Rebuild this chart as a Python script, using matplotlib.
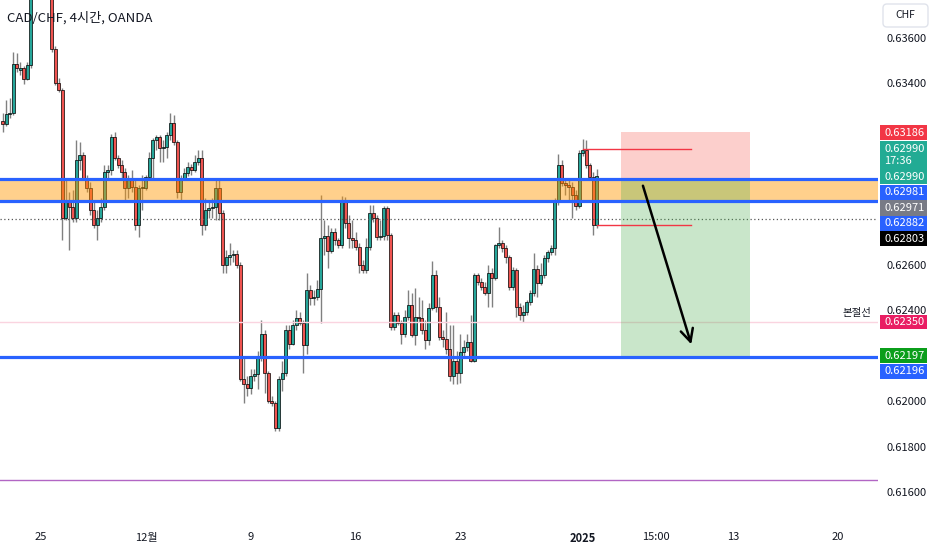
import matplotlib
matplotlib.use('Agg')
import numpy as np
import matplotlib.pyplot as plt
import matplotlib.transforms as mtransforms
from matplotlib.patches import Rectangle, FancyBboxPatch

plt.rcParams['font.family'] = ['Noto Sans CJK KR', 'DejaVu Sans']

# CAD/CHF 4시간 봉 (왼쪽부터 순서대로)
opens = [
    0.63233, 0.63220, 0.63264, 0.63269, 0.63485, 0.63458, 0.63467, 0.63419, 0.63480, 0.63802,
    0.63877, 0.63855, 0.63921, 0.63890, 0.63820, 0.63551, 0.63401, 0.63370, 0.62806, 0.62876,
    0.62854, 0.62806, 0.63061, 0.63083, 0.62982, 0.62938, 0.62841, 0.62775, 0.62806, 0.62854,
    0.63008, 0.63017, 0.63163, 0.63070, 0.63039, 0.63008, 0.62938, 0.62973, 0.62942, 0.62775,
    0.62938, 0.62938, 0.62986, 0.63070, 0.63150, 0.63163, 0.63114, 0.63119, 0.63172, 0.63225,
    0.63141, 0.62920, 0.62982, 0.63004, 0.63031, 0.63017, 0.63053, 0.63070, 0.62775, 0.62841,
    0.62850, 0.62854, 0.62938, 0.62828, 0.62598, 0.62634, 0.62642, 0.62647, 0.62598, 0.62100,
    0.62078, 0.62060, 0.62113, 0.62122, 0.62201, 0.62298, 0.62126, 0.62003, 0.61990, 0.61880,
    0.62100, 0.62126, 0.62312, 0.62254, 0.62334, 0.62365, 0.62343, 0.62246, 0.62488, 0.62453,
    0.62457, 0.62493, 0.62717, 0.62726, 0.62660, 0.62744, 0.62709, 0.62687, 0.62885, 0.62784,
    0.62717, 0.62709, 0.62678, 0.62598, 0.62576, 0.62678, 0.62828, 0.62806, 0.62722, 0.62726,
    0.62850, 0.62731, 0.62325, 0.62378, 0.62343, 0.62298, 0.62369, 0.62422, 0.62290, 0.62369,
    0.62365, 0.62312, 0.62268, 0.62409, 0.62554, 0.62413, 0.62281, 0.62276, 0.62232, 0.62113,
    0.62179, 0.62126, 0.62215, 0.62237, 0.62259, 0.62179, 0.62554, 0.62523, 0.62501, 0.62475,
    0.62567, 0.62545, 0.62687, 0.62695, 0.62673, 0.62634, 0.62501, 0.62576, 0.62413, 0.62382,
    0.62391, 0.62435, 0.62475, 0.62581, 0.62519, 0.62554, 0.62629, 0.62656, 0.62673, 0.62876,
    0.63039, 0.62960, 0.62951, 0.62942, 0.62907, 0.62859, 0.63092, 0.63105, 0.63039, 0.62986,
    0.62775,
]
highs = [
    0.63269, 0.63326, 0.63335, 0.63538, 0.63533, 0.63494, 0.63476, 0.63494, 0.63833, 0.63899,
    0.63921, 0.63952, 0.63943, 0.63908, 0.63846, 0.63564, 0.63423, 0.63379, 0.62973, 0.62920,
    0.62929, 0.63150, 0.63141, 0.63097, 0.62995, 0.62964, 0.62885, 0.62841, 0.62894, 0.63039,
    0.63039, 0.63176, 0.63185, 0.63083, 0.63061, 0.63026, 0.62995, 0.63017, 0.62973, 0.62951,
    0.62995, 0.62995, 0.63097, 0.63158, 0.63172, 0.63172, 0.63150, 0.63185, 0.63269, 0.63260,
    0.63150, 0.62995, 0.63026, 0.63053, 0.63044, 0.63083, 0.63105, 0.63105, 0.62894, 0.62885,
    0.62894, 0.62973, 0.62973, 0.62841, 0.62664, 0.62695, 0.62664, 0.62664, 0.62612, 0.62193,
    0.62113, 0.62144, 0.62144, 0.62223, 0.62356, 0.62312, 0.62135, 0.62025, 0.62003, 0.62113,
    0.62179, 0.62334, 0.62334, 0.62356, 0.62400, 0.62391, 0.62356, 0.62563, 0.62510, 0.62488,
    0.62532, 0.62907, 0.62797, 0.62775, 0.62762, 0.62762, 0.62717, 0.62903, 0.62898, 0.62819,
    0.62797, 0.62744, 0.62695, 0.62620, 0.62717, 0.62863, 0.62863, 0.62819, 0.62797, 0.62859,
    0.62859, 0.62739, 0.62391, 0.62391, 0.62356, 0.62400, 0.62488, 0.62475, 0.62497, 0.62457,
    0.62444, 0.62356, 0.62431, 0.62616, 0.62576, 0.62457, 0.62312, 0.62391, 0.62334, 0.62334,
    0.62223, 0.62298, 0.62268, 0.62298, 0.62378, 0.62567, 0.62567, 0.62541, 0.62523, 0.62598,
    0.62585, 0.62691, 0.62766, 0.62709, 0.62687, 0.62642, 0.62590, 0.62585, 0.62431, 0.62422,
    0.62444, 0.62488, 0.62651, 0.62598, 0.62607, 0.62642, 0.62664, 0.62687, 0.62894, 0.63088,
    0.63061, 0.62982, 0.62973, 0.62964, 0.62929, 0.63105, 0.63154, 0.63150, 0.63048, 0.63008,
    0.63022,
]
lows = [
    0.63185, 0.63211, 0.63247, 0.63260, 0.63449, 0.63436, 0.63397, 0.63414, 0.63467, 0.63780,
    0.63833, 0.63846, 0.63864, 0.63811, 0.63538, 0.63392, 0.63361, 0.62709, 0.62797, 0.62664,
    0.62788, 0.62788, 0.63017, 0.62973, 0.62920, 0.62819, 0.62762, 0.62709, 0.62788, 0.62841,
    0.62973, 0.62995, 0.63061, 0.63026, 0.62982, 0.62885, 0.62894, 0.62920, 0.62753, 0.62722,
    0.62841, 0.62929, 0.62973, 0.62973, 0.63105, 0.63053, 0.63053, 0.63070, 0.63150, 0.63128,
    0.62894, 0.62885, 0.62973, 0.62991, 0.62995, 0.63008, 0.63039, 0.62731, 0.62753, 0.62806,
    0.62806, 0.62797, 0.62797, 0.62567, 0.62563, 0.62598, 0.62612, 0.62585, 0.62091, 0.61990,
    0.62025, 0.62034, 0.62091, 0.62056, 0.62179, 0.62038, 0.61994, 0.61981, 0.61871, 0.61871,
    0.62047, 0.62113, 0.62232, 0.62246, 0.62312, 0.62334, 0.62126, 0.62210, 0.62422, 0.62422,
    0.62444, 0.62343, 0.62642, 0.62585, 0.62651, 0.62687, 0.62673, 0.62673, 0.62762, 0.62673,
    0.62673, 0.62664, 0.62563, 0.62563, 0.62567, 0.62664, 0.62788, 0.62709, 0.62709, 0.62709,
    0.62709, 0.62312, 0.62312, 0.62334, 0.62254, 0.62285, 0.62356, 0.62281, 0.62246, 0.62347,
    0.62298, 0.62232, 0.62246, 0.62400, 0.62391, 0.62268, 0.62237, 0.62210, 0.62091, 0.62078,
    0.62078, 0.62082, 0.62197, 0.62223, 0.62171, 0.62171, 0.62510, 0.62488, 0.62466, 0.62413,
    0.62413, 0.62532, 0.62673, 0.62656, 0.62607, 0.62488, 0.62488, 0.62369, 0.62356, 0.62347,
    0.62378, 0.62422, 0.62462, 0.62457, 0.62510, 0.62541, 0.62612, 0.62642, 0.62642, 0.62863,
    0.62947, 0.62907, 0.62885, 0.62806, 0.62841, 0.62850, 0.63079, 0.63026, 0.62973, 0.62731,
    0.62762,
]
closes = [
    0.63220, 0.63264, 0.63269, 0.63485, 0.63467, 0.63467, 0.63419, 0.63480, 0.63802, 0.63877,
    0.63855, 0.63921, 0.63890, 0.63820, 0.63551, 0.63401, 0.63370, 0.62806, 0.62876, 0.62854,
    0.62806, 0.63061, 0.63083, 0.62982, 0.62938, 0.62841, 0.62775, 0.62806, 0.62854, 0.63008,
    0.63017, 0.63163, 0.63070, 0.63039, 0.63008, 0.62938, 0.62973, 0.62942, 0.62775, 0.62938,
    0.62942, 0.62986, 0.63070, 0.63150, 0.63163, 0.63114, 0.63119, 0.63172, 0.63225, 0.63141,
    0.62920, 0.62982, 0.63004, 0.63031, 0.63017, 0.63053, 0.63070, 0.62775, 0.62841, 0.62850,
    0.62854, 0.62938, 0.62828, 0.62598, 0.62634, 0.62642, 0.62647, 0.62598, 0.62100, 0.62078,
    0.62060, 0.62113, 0.62122, 0.62201, 0.62298, 0.62126, 0.62003, 0.61990, 0.61880, 0.62100,
    0.62126, 0.62312, 0.62254, 0.62334, 0.62365, 0.62343, 0.62246, 0.62488, 0.62453, 0.62457,
    0.62493, 0.62717, 0.62726, 0.62660, 0.62744, 0.62709, 0.62687, 0.62885, 0.62784, 0.62717,
    0.62709, 0.62678, 0.62598, 0.62576, 0.62678, 0.62828, 0.62806, 0.62722, 0.62726, 0.62850,
    0.62731, 0.62325, 0.62378, 0.62343, 0.62298, 0.62369, 0.62422, 0.62290, 0.62369, 0.62365,
    0.62312, 0.62268, 0.62409, 0.62554, 0.62413, 0.62281, 0.62276, 0.62232, 0.62113, 0.62179,
    0.62126, 0.62215, 0.62237, 0.62259, 0.62179, 0.62554, 0.62523, 0.62501, 0.62475, 0.62567,
    0.62545, 0.62687, 0.62695, 0.62673, 0.62634, 0.62501, 0.62576, 0.62413, 0.62382, 0.62391,
    0.62435, 0.62475, 0.62581, 0.62519, 0.62554, 0.62629, 0.62656, 0.62673, 0.62876, 0.63039,
    0.62960, 0.62951, 0.62942, 0.62907, 0.62859, 0.63092, 0.63105, 0.63039, 0.62986, 0.62775,
    0.62990,
]

# 시간축 눈금 (봉 번호 기준)
date_ticks = [11, 41, 71, 101, 131, 166, 187, 209, 239]
date_labels = ['25', '12월', '9', '16', '23', '2025', '15:00', '13', '20']
price_ticks = [0.636, 0.634, 0.626, 0.624, 0.620, 0.618, 0.616]

# 수평선 / 박스
zone_top, zone_bottom = 0.62981, 0.62882
support = 0.62196
breakeven = 0.62350
dotted_level = 0.62803
purple_level = 0.61653

# 숏 포지션 도구
pos_start, pos_end = 177, 214
stop_price, entry_price, target_price = 0.63186, 0.62971, 0.62197
ray_prices = [0.63111, 0.62776]
ray_starts = [166, 170]
ray_end = 197
arrow_from = (183, 0.62961)
arrow_to = (197.3, 0.62239)

# 오른쪽 가격 라벨
label_texts = ['0.63186', '0.62990\n17:36', '0.62990', '0.62981', '0.62971',
               '0.62882', '0.62803', '0.62350', '0.62197', '0.62196']
label_colors = ['#f23645', '#22ab94', '#22ab94', '#2962ff', '#787b86',
                '#2962ff', '#000000', '#e91e63', '#0b9e1b', '#2962ff']
# 겹치지 않게 쌓인 위치 (차트 위에서부터 px)
label_y_px = [132.5, 155.5, 176.8, 192.3, 207.8, 223.3, 238.6, 322.0, 355.8, 371.3]
label_h_px = [15, 28, 14.5, 15.5, 15.5, 15.5, 15.5, 14, 15, 15.5]

W, H = 932, 550
plot_w, plot_h = 878, 520
y_top = 0.637674
ppx = 0.00004405
y_bot = y_top - plot_h * ppx

fig = plt.figure(figsize=(W / 100, H / 100), dpi=100)
fig.patch.set_facecolor('white')
ax = fig.add_axes([0, (H - plot_h) / H, plot_w / W, plot_h / H])

n = len(opens)
step = 594.0 / (n - 1)
ax.set_xlim(-2.7 / step, (plot_w - 2.7) / step)
ax.set_ylim(y_bot, y_top)

o = np.array(opens)
c = np.array(closes)
x = np.arange(n)
up = c >= o
ax.vlines(x, lows, highs, color='#808080', lw=1, zorder=3)
ax.bar(x, c - o, bottom=o, width=0.86, color=np.where(up, '#26a69a', '#ef5350'),
       edgecolor='black', linewidth=0.5, zorder=4)

# 오렌지 구간 + 파란선
ax.axhspan(zone_bottom, zone_top, color='#ff9800', alpha=0.45, lw=0, zorder=5)
for lvl in [zone_top, zone_bottom, support]:
    ax.axhline(lvl, color='#2962ff', lw=2.3, zorder=7)
ax.axhline(breakeven, color='#fad4e0', lw=1, zorder=5)
ax.axhline(purple_level, color='#b266c4', lw=1, zorder=5)
ax.axhline(dotted_level, color='#555555', lw=0.9, ls=(0, (1, 2)), zorder=5)

# 포지션 박스
ax.add_patch(Rectangle((pos_start, entry_price), pos_end - pos_start, stop_price - entry_price,
                       facecolor='#f44336', alpha=0.25, lw=0, zorder=6))
ax.add_patch(Rectangle((pos_start, target_price), pos_end - pos_start, entry_price - target_price,
                       facecolor='#4caf50', alpha=0.3, lw=0, zorder=6))
for p, s in zip(ray_prices, ray_starts):
    ax.plot([s, ray_end], [p, p], color='#f23645', lw=1, zorder=6)
ax.annotate('', xy=arrow_to, xytext=arrow_from,
            arrowprops=dict(arrowstyle='->,head_length=0.9,head_width=0.45', color='black', lw=1.8),
            zorder=8)

ax.annotate('본절선', xy=(1, breakeven), xycoords=('axes fraction', 'data'),
            xytext=(-4.5, 3), textcoords='offset points', ha='right', va='bottom',
            fontsize=7.5, color='#131722')

# 축
for s in ax.spines.values():
    s.set_visible(False)
ax.yaxis.tick_right()
ax.set_yticks(price_ticks)
ax.set_yticklabels(['%.5f' % t for t in price_ticks])
ax.set_xticks(date_ticks)
ax.set_xticklabels(date_labels)
ax.tick_params(axis='both', length=0, labelsize=8, colors='#131722')
ax.tick_params(axis='y', pad=6.2)
ax.tick_params(axis='x', pad=9)
for lab in ax.get_xticklabels():
    if lab.get_text() == '2025':
        lab.set_fontweight('bold')

# 가격 라벨
trans = mtransforms.blended_transform_factory(ax.transAxes, ax.transData)
bx0 = 880 / plot_w
bw = 47 / plot_w
for txt, col, ypx, hpx in zip(label_texts, label_colors, label_y_px, label_h_px):
    yc = y_top - ypx * ppx
    ax.add_patch(Rectangle((bx0, yc - hpx * ppx / 2), bw, hpx * ppx, transform=trans,
                           facecolor=col, edgecolor='none', clip_on=False, zorder=20))
    ax.text(884 / plot_w, yc, txt, transform=trans, color='white', fontsize=8,
            ha='left', va='center', linespacing=1.25, clip_on=False, zorder=21)

# CHF 박스 / 제목
fig.patches.append(FancyBboxPatch((8.83, (H - 27) / 100), 0.45, 0.23,
                                  boxstyle='round,pad=0,rounding_size=0.04',
                                  transform=fig.dpi_scale_trans, facecolor='white',
                                  edgecolor='#e0e3eb', lw=1, zorder=10))
fig.text(905.5 / W, 1 - 15.5 / H, 'CHF', ha='center', va='center', fontsize=7.5,
         color='#131722', zorder=11)
fig.text(7 / W, 1 - 18 / H, 'CAD/CHF, 4시간, OANDA', ha='left', va='center',
         fontsize=9.5, color='#131722')

fig.savefig('out.png', dpi=100, facecolor='white')
